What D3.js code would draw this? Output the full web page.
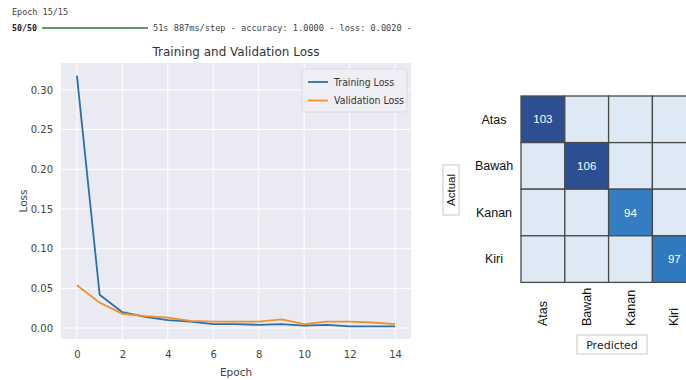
<!DOCTYPE html>
<html>
<head>
<meta charset="utf-8">
<script src="https://cdn.jsdelivr.net/npm/d3@7"></script>
<style>
  body { margin: 0; background: #fff; }
  svg { display: block; }
</style>
</head>
<body>
<script>
// Loss curves
const epochs = d3.range(15)
const trainLoss = [0.318, 0.042, 0.020, 0.014, 0.010, 0.008, 0.005, 0.005, 0.004, 0.005, 0.003, 0.004, 0.002, 0.002, 0.002]
const valLoss = [0.054, 0.032, 0.018, 0.015, 0.013, 0.009, 0.008, 0.008, 0.008, 0.011, 0.005, 0.008, 0.008, 0.007, 0.005]
const xTicks = [0, 2, 4, 6, 8, 10, 12, 14]
const yTicks = [0, 0.05, 0.10, 0.15, 0.20, 0.25, 0.30]

// Confusion matrix
const classes = ['Atas', 'Bawah', 'Kanan', 'Kiri']
const matrix = [
  [103, 0, 0, 0],
  [0, 106, 0, 0],
  [0, 0, 94, 0],
  [0, 0, 0, 97]
]

const W = 686
const H = 380
const svg = d3.select('body').append('svg')
  .attr('width', W)
  .attr('height', H)
  .attr('viewBox', [0, 0, W, H].join(' '))

const mono = 'DejaVu Sans Mono, monospace'
const sans = 'DejaVu Sans, sans-serif'

// Console output header
svg.append('text')
  .attr('x', 12).attr('y', 15)
  .attr('font-family', mono).attr('font-size', 8.5).attr('fill', '#444')
  .attr('textLength', 56).attr('lengthAdjust', 'spacingAndGlyphs')
  .text('Epoch 15/15')
svg.append('text')
  .attr('x', 12).attr('y', 31)
  .attr('font-family', mono).attr('font-size', 8.5).attr('font-weight', 'bold').attr('fill', '#222')
  .attr('textLength', 25).attr('lengthAdjust', 'spacingAndGlyphs')
  .text('50/50')
svg.append('line')
  .attr('x1', 42).attr('x2', 148).attr('y1', 28).attr('y2', 28)
  .attr('stroke', '#2e7d32').attr('stroke-width', 1.6)
svg.append('text')
  .attr('x', 153).attr('y', 31)
  .attr('font-family', mono).attr('font-size', 8.5).attr('fill', '#444')
  .attr('textLength', 259).attr('lengthAdjust', 'spacingAndGlyphs')
  .text('51s 887ms/step - accuracy: 1.0000 - loss: 0.0020 -')

// ---- Loss chart ----
const plot = { left: 61, right: 411, top: 63, bottom: 339 }

const xScale = d3.scaleLinear()
  .domain([-0.7, 14.7])
  .range([plot.left, plot.right])

const yMax = d3.max(trainLoss.concat(valLoss))
const yMin = d3.min(trainLoss.concat(valLoss))
const pad = (yMax - yMin) * 0.05
const yScale = d3.scaleLinear()
  .domain([yMin - pad, yMax + pad])
  .range([plot.bottom, plot.top])

const chart = svg.append('g')

chart.append('rect')
  .attr('x', plot.left).attr('y', plot.top)
  .attr('width', plot.right - plot.left).attr('height', plot.bottom - plot.top)
  .attr('fill', '#eaeaf2')

// Grid
chart.append('g')
  .selectAll('line')
  .data(xTicks)
  .join('line')
  .attr('x1', d => xScale(d)).attr('x2', d => xScale(d))
  .attr('y1', plot.top).attr('y2', plot.bottom)
  .attr('stroke', '#fff').attr('stroke-width', 1)

chart.append('g')
  .selectAll('line')
  .data(yTicks)
  .join('line')
  .attr('x1', plot.left).attr('x2', plot.right)
  .attr('y1', d => yScale(d)).attr('y2', d => yScale(d))
  .attr('stroke', '#fff').attr('stroke-width', 1)

// Axes (labels only, seaborn darkgrid style)
const xAxis = chart.append('g')
  .attr('transform', `translate(0, ${plot.bottom})`)
  .call(d3.axisBottom(xScale).tickValues(xTicks).tickSize(0).tickPadding(12).tickFormat(d3.format('d')))
xAxis.select('.domain').remove()

const yAxis = chart.append('g')
  .attr('transform', `translate(${plot.left}, 0)`)
  .call(d3.axisLeft(yScale).tickValues(yTicks).tickSize(0).tickPadding(8).tickFormat(d3.format('.2f')))
yAxis.select('.domain').remove()

chart.selectAll('.tick text')
  .attr('font-family', sans)
  .attr('font-size', 10)
  .attr('fill', '#444')

// Lines
const line = (values) => d3.line()
  .x(d => xScale(d))
  .y(d => yScale(values[d]))

chart.append('path')
  .datum(epochs)
  .attr('d', line(trainLoss))
  .attr('fill', 'none')
  .attr('stroke', '#2a6fae')
  .attr('stroke-width', 1.8)
  .attr('stroke-linejoin', 'round')

chart.append('path')
  .datum(epochs)
  .attr('d', line(valLoss))
  .attr('fill', 'none')
  .attr('stroke', '#f28e2c')
  .attr('stroke-width', 1.8)
  .attr('stroke-linejoin', 'round')

// Title and axis titles
chart.append('text')
  .attr('x', (plot.left + plot.right) / 2).attr('y', 56)
  .attr('text-anchor', 'middle')
  .attr('font-family', sans).attr('font-size', 12.5).attr('fill', '#333')
  .attr('textLength', 167).attr('lengthAdjust', 'spacingAndGlyphs')
  .text('Training and Validation Loss')

chart.append('text')
  .attr('x', (plot.left + plot.right) / 2).attr('y', 376)
  .attr('text-anchor', 'middle')
  .attr('font-family', sans).attr('font-size', 10.5).attr('fill', '#444')
  .text('Epoch')

chart.append('text')
  .attr('transform', `translate(27, ${(plot.top + plot.bottom) / 2}) rotate(-90)`)
  .attr('text-anchor', 'middle')
  .attr('font-family', sans).attr('font-size', 10.5).attr('fill', '#444')
  .text('Loss')

// Legend
const legend = chart.append('g').attr('transform', 'translate(302, 69)')
legend.append('rect')
  .attr('width', 105).attr('height', 43).attr('rx', 3)
  .attr('fill', '#eeeef4').attr('stroke', '#d6d6de').attr('stroke-width', 0.8)

const legendItems = [
  { label: 'Training Loss', color: '#2a6fae' },
  { label: 'Validation Loss', color: '#f28e2c' }
]
legendItems.forEach((item, i) => {
  const y = 13 + i * 18.5
  legend.append('line')
    .attr('x1', 6).attr('x2', 26).attr('y1', y).attr('y2', y)
    .attr('stroke', item.color).attr('stroke-width', 1.8)
  legend.append('text')
    .attr('x', 32).attr('y', y + 3.5)
    .attr('font-family', sans).attr('font-size', 10).attr('fill', '#333')
    .attr('textLength', i === 0 ? 60 : 70).attr('lengthAdjust', 'spacingAndGlyphs')
    .text(item.label)
})

// ---- Confusion matrix ----
const hm = { left: 521, top: 96, cellW: 43.8, cellH: 46.6 }
const xBand = d3.scaleBand()
  .domain(classes)
  .range([hm.left, hm.left + hm.cellW * classes.length])
const yBand = d3.scaleBand()
  .domain(classes)
  .range([hm.top, hm.top + hm.cellH * classes.length])

const color = d3.scaleLinear()
  .domain([0, 97, 103])
  .range(['#dde9f5', '#2f7abe', '#2b4f92'])
  .clamp(true)

const cells = []
matrix.forEach((row, r) => row.forEach((v, c) => cells.push({ actual: classes[r], predicted: classes[c], value: v })))

const heat = svg.append('g')
heat.selectAll('rect')
  .data(cells)
  .join('rect')
  .attr('x', d => xBand(d.predicted))
  .attr('y', d => yBand(d.actual))
  .attr('width', xBand.bandwidth())
  .attr('height', yBand.bandwidth())
  .attr('fill', d => color(d.value))
  .attr('stroke', '#4a4a4a')
  .attr('stroke-width', 1.3)

heat.selectAll('text.val')
  .data(cells.filter(d => d.value > 0))
  .join('text')
  .attr('class', 'val')
  .attr('x', d => xBand(d.predicted) + xBand.bandwidth() / 2)
  .attr('y', d => yBand(d.actual) + yBand.bandwidth() / 2)
  .attr('dy', '0.35em')
  .attr('text-anchor', 'middle')
  .attr('font-family', 'Liberation Sans, Arial, sans-serif')
  .attr('font-size', 11.5)
  .attr('fill', '#fff')
  .text(d => d.value)

// Row labels
heat.selectAll('text.row')
  .data(classes)
  .join('text')
  .attr('class', 'row')
  .attr('x', 494)
  .attr('y', d => yBand(d) + yBand.bandwidth() / 2)
  .attr('dy', '0.35em')
  .attr('text-anchor', 'middle')
  .attr('font-family', 'Liberation Sans, Arial, sans-serif')
  .attr('font-size', 12.5)
  .attr('fill', '#111')
  .text(d => d)

// Column labels
heat.selectAll('text.col')
  .data(classes)
  .join('text')
  .attr('class', 'col')
  .attr('transform', d => `translate(${xBand(d) + xBand.bandwidth() / 2 + 4}, 326) rotate(-90)`)
  .attr('text-anchor', 'start')
  .attr('font-family', 'Liberation Sans, Arial, sans-serif')
  .attr('font-size', 12.5)
  .attr('fill', '#111')
  .text(d => d)

// Boxed axis titles
heat.append('rect')
  .attr('x', 443).attr('y', 165).attr('width', 16).attr('height', 50)
  .attr('fill', '#fff').attr('stroke', '#c8c8c8').attr('stroke-width', 1)
heat.append('text')
  .attr('transform', 'translate(455, 190) rotate(-90)')
  .attr('text-anchor', 'middle')
  .attr('font-family', 'Liberation Sans, Arial, sans-serif')
  .attr('font-size', 11.5)
  .attr('fill', '#111')
  .text('Actual')

heat.append('rect')
  .attr('x', 577).attr('y', 335).attr('width', 70).attr('height', 19)
  .attr('fill', '#fff').attr('stroke', '#c8c8c8').attr('stroke-width', 1)
heat.append('text')
  .attr('x', 612).attr('y', 349)
  .attr('text-anchor', 'middle')
  .attr('font-family', sans)
  .attr('font-size', 11)
  .attr('fill', '#222')
  .text('Predicted')
</script>
</body>
</html>
